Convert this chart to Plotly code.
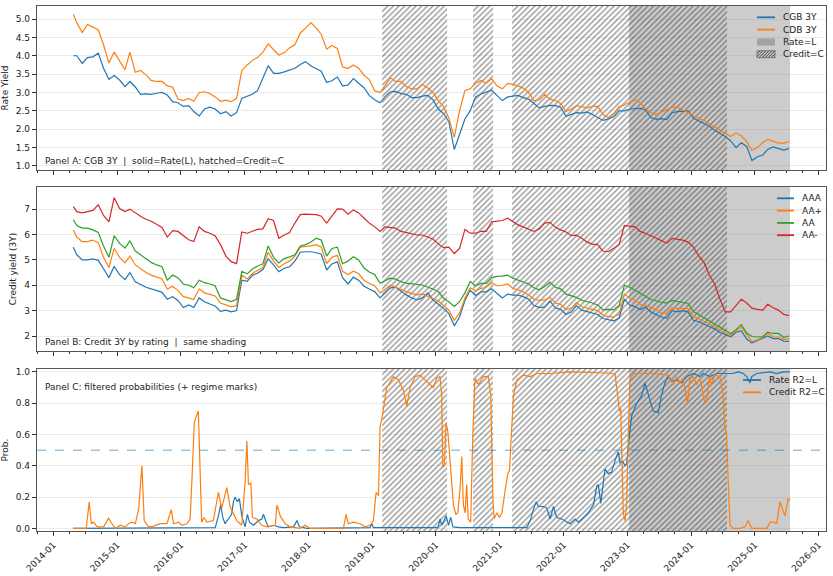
import pandas as pd
import plotly.graph_objects as go
from plotly.subplots import make_subplots

# ---------------- data ----------------
start_date = "2014-04-25"
month_dates = list(pd.date_range("2014-05-01", "2025-07-01", freq="MS") + pd.Timedelta(days=14))
dates = [pd.Timestamp(start_date)] + month_dates

cgb_3y = [4.00, 4.00, 3.79, 3.95, 3.97, 4.07, 3.66, 3.36, 3.46,
          3.34, 3.16, 3.30, 3.15, 2.95, 2.96, 2.95, 2.98, 3.00, 2.93, 2.75, 2.72,
          2.62, 2.64, 2.48, 2.36, 2.55, 2.60, 2.55, 2.42, 2.48, 2.36, 2.45, 2.84,
          2.90, 2.96, 3.05, 3.38, 3.73, 3.52, 3.52, 3.56, 3.60, 3.66, 3.76, 3.84,
          3.72, 3.65, 3.58, 3.27, 3.32, 3.42, 3.18, 3.20, 3.38, 3.25, 3.13, 2.92,
          2.80, 2.72, 2.88, 3.02, 3.03, 2.97, 2.95, 2.86, 2.86, 2.90, 2.92, 2.80,
          2.55, 2.42, 2.20, 1.45, 1.85, 2.28, 2.50, 2.88, 2.96, 3.02, 3.06, 2.92,
          2.78, 2.88, 2.90, 2.92, 2.86, 2.82, 2.70, 2.58, 2.62, 2.65, 2.64, 2.60,
          2.35, 2.40, 2.45, 2.44, 2.47, 2.40, 2.33, 2.24, 2.28, 2.34, 2.50, 2.50,
          2.55, 2.57, 2.57, 2.53, 2.32, 2.27, 2.29, 2.26, 2.45, 2.48, 2.50, 2.50,
          2.30, 2.23, 2.16, 2.08, 1.97, 1.89, 1.80, 1.68, 1.50, 1.63, 1.53, 1.15,
          1.25, 1.30, 1.45, 1.52, 1.47, 1.43, 1.47]

cdb_3y = [5.12, 4.90, 4.63, 4.85, 4.78, 4.70, 4.30, 3.80, 4.10,
          3.85, 3.62, 4.10, 3.55, 3.60, 3.48, 3.33, 3.30, 3.30, 3.18, 3.15, 2.82,
          2.78, 2.84, 2.76, 3.00, 3.02, 2.97, 2.88, 2.76, 2.79, 2.75, 2.84, 3.60,
          3.75, 3.88, 3.95, 4.10, 4.32, 4.18, 4.02, 4.08, 4.22, 4.30, 4.62, 4.75,
          4.90, 4.75, 4.58, 4.18, 4.28, 4.20, 3.70, 3.65, 3.75, 3.66, 3.47, 3.35,
          3.05, 3.00, 3.20, 3.40, 3.30, 3.30, 3.16, 3.10, 3.10, 3.22, 3.12, 3.00,
          2.78, 2.60, 2.30, 1.78, 2.50, 3.05, 3.10, 3.25, 3.33, 3.25, 3.38, 3.18,
          3.10, 3.25, 3.22, 3.18, 3.12, 3.00, 2.78, 2.80, 2.95, 2.82, 2.78, 2.70,
          2.48, 2.55, 2.64, 2.60, 2.58, 2.62, 2.62, 2.40, 2.32, 2.42, 2.62, 2.66,
          2.74, 2.79, 2.72, 2.56, 2.45, 2.40, 2.47, 2.55, 2.60, 2.60, 2.52, 2.45,
          2.35, 2.29, 2.24, 2.15, 2.05, 1.97, 1.88, 1.80, 1.90, 1.82, 1.66, 1.42,
          1.50, 1.64, 1.72, 1.66, 1.62, 1.62, 1.66]

aaa = [5.50, 5.20, 5.00, 5.00, 5.04, 4.98, 4.65, 4.30, 4.75,
       4.42, 4.22, 4.50, 4.14, 4.02, 3.92, 3.86, 3.80, 3.72, 3.45, 3.55, 3.40,
       3.12, 3.22, 3.12, 3.50, 3.35, 3.26, 3.18, 2.97, 3.02, 2.95, 3.00, 4.20,
       4.15, 4.40, 4.47, 4.62, 5.04, 4.80, 4.53, 4.67, 4.73, 4.95, 5.30, 5.32,
       5.32, 5.28, 5.22, 4.60, 4.84, 4.92, 4.30, 4.05, 4.32, 4.20, 3.96, 3.85,
       3.75, 3.50, 3.70, 3.90, 3.92, 3.75, 3.62, 3.50, 3.42, 3.50, 3.70, 3.42,
       3.25, 3.08, 2.88, 2.40, 2.75, 3.40, 3.80, 3.60, 3.74, 3.74, 3.86, 3.68,
       3.50, 3.65, 3.61, 3.61, 3.55, 3.45, 3.20, 3.12, 3.15, 3.38, 3.10, 3.05,
       2.85, 2.95, 3.20, 3.02, 2.97, 2.92, 2.85, 2.69, 2.64, 2.60, 2.70, 3.45,
       3.22, 3.15, 3.04, 3.14, 2.95, 2.85, 2.75, 2.70, 3.00, 2.95, 3.00, 2.95,
       2.62, 2.56, 2.47, 2.38, 2.28, 2.14, 2.05, 1.97, 2.15, 2.20, 1.88, 1.72,
       1.82, 1.90, 2.00, 1.90, 1.90, 1.80, 1.79]

aa_plus = [6.18, 5.90, 5.72, 5.72, 5.78, 5.68, 5.10, 4.70, 5.45,
           5.10, 4.88, 5.15, 4.80, 4.64, 4.50, 4.40, 4.32, 4.25, 3.85, 3.95, 3.80,
           3.55, 3.50, 3.44, 3.85, 3.70, 3.64, 3.58, 3.30, 3.22, 3.15, 3.20, 4.40,
           4.25, 4.47, 4.58, 4.70, 5.30, 4.95, 4.70, 4.85, 4.95, 5.15, 5.50, 5.52,
           5.55, 5.60, 5.50, 4.85, 5.10, 5.18, 4.55, 4.42, 4.55, 4.46, 4.20, 4.08,
           3.98, 3.70, 3.85, 4.00, 3.92, 3.82, 3.75, 3.68, 3.62, 3.66, 3.58, 3.48,
           3.38, 3.18, 3.02, 2.62, 2.90, 3.50, 3.90, 3.78, 3.88, 3.92, 4.10, 3.98,
           4.00, 4.05, 3.88, 3.82, 3.74, 3.62, 3.45, 3.40, 3.42, 3.52, 3.30, 3.24,
           3.05, 3.10, 3.32, 3.15, 3.10, 3.05, 3.00, 2.82, 2.76, 2.75, 2.85, 3.65,
           3.50, 3.40, 3.25, 3.22, 3.12, 3.05, 2.90, 2.90, 3.12, 3.09, 3.09, 3.08,
           2.76, 2.68, 2.58, 2.48, 2.36, 2.26, 2.12, 2.04, 2.20, 2.35, 2.05, 1.78,
           1.85, 1.95, 2.12, 1.97, 1.96, 1.88, 1.88]

aa = [6.58, 6.35, 6.25, 6.25, 6.18, 6.08, 5.55, 5.10, 5.95,
      5.65, 5.46, 5.75, 5.35, 5.20, 5.05, 4.90, 4.80, 4.73, 4.20, 4.40, 4.30,
      4.05, 4.00, 3.90, 4.20, 4.10, 4.05, 3.98, 3.50, 3.42, 3.36, 3.45, 4.55,
      4.45, 4.65, 4.75, 4.85, 5.55, 5.10, 4.88, 5.05, 5.12, 5.20, 5.55, 5.60,
      5.70, 5.85, 5.78, 5.15, 5.45, 5.50, 4.85, 4.95, 5.12, 5.00, 4.68, 4.52,
      4.42, 4.08, 4.18, 4.28, 4.24, 4.14, 4.08, 4.05, 4.02, 4.01, 3.92, 3.85,
      3.74, 3.48, 3.35, 3.16, 3.35, 3.70, 4.15, 3.98, 4.07, 4.07, 4.30, 4.35,
      4.36, 4.40, 4.28, 4.20, 4.14, 4.05, 3.90, 3.82, 3.95, 4.12, 3.92, 3.86,
      3.65, 3.58, 3.52, 3.41, 3.36, 3.30, 3.22, 3.04, 3.05, 3.04, 3.20, 4.00,
      3.92, 3.81, 3.68, 3.57, 3.44, 3.38, 3.33, 3.30, 3.40, 3.36, 3.32, 3.28,
      2.96, 2.83, 2.72, 2.60, 2.46, 2.34, 2.20, 2.10, 2.25, 2.45, 2.12, 1.98,
      1.96, 1.98, 2.15, 2.10, 2.10, 1.95, 2.00]

aa_minus = [7.10, 6.90, 6.85, 6.91, 6.95, 7.17, 6.75, 6.50, 7.45,
            7.02, 6.90, 7.00, 6.85, 6.72, 6.60, 6.52, 6.40, 6.28, 5.90, 6.15, 6.12,
            5.95, 5.79, 5.72, 6.30, 6.12, 6.05, 5.95, 5.60, 5.15, 4.93, 4.85, 6.10,
            6.05, 6.12, 6.20, 6.22, 6.62, 6.55, 5.85, 5.98, 6.08, 6.45, 6.78, 6.80,
            6.80, 6.78, 6.72, 6.45, 6.72, 7.01, 7.00, 6.80, 6.97, 6.85, 6.65, 6.45,
            6.30, 6.12, 6.30, 6.28, 6.25, 6.12, 6.08, 6.03, 5.98, 5.98, 5.90, 5.82,
            5.62, 5.48, 5.50, 5.25, 5.45, 6.20, 6.05, 6.05, 6.12, 6.12, 6.50, 6.52,
            6.55, 6.64, 6.50, 6.38, 6.30, 6.22, 6.12, 6.22, 6.45, 6.48, 6.28, 6.18,
            6.10, 5.95, 5.97, 5.85, 5.70, 5.62, 5.60, 5.34, 5.32, 5.46, 5.60, 6.35,
            6.33, 6.30, 6.12, 6.05, 5.95, 5.85, 5.75, 5.66, 5.85, 5.83, 5.78, 5.70,
            5.50, 5.15, 4.90, 4.40, 4.05, 3.45, 2.95, 2.95, 3.20, 3.45, 3.30, 3.10,
            3.05, 3.02, 3.25, 3.11, 3.02, 2.85, 2.80]

credit_prob_dates = [
    "2014-04-23", "2014-07-08", "2014-07-25", "2014-08-06", "2014-08-18", "2014-09-10", "2014-10-16",
    "2014-11-13", "2014-12-02", "2014-12-21", "2015-01-19", "2015-02-16", "2015-03-07", "2015-03-27",
    "2015-04-15", "2015-05-04", "2015-05-23", "2015-06-05", "2015-06-30", "2015-07-28", "2015-09-05",
    "2015-10-13", "2015-11-07", "2015-11-20", "2015-12-19", "2016-01-07", "2016-02-05", "2016-02-23",
    "2016-03-04", "2016-03-18", "2016-04-10", "2016-04-20", "2016-04-29", "2016-05-13", "2016-05-28",
    "2016-07-05", "2016-08-03", "2016-08-22", "2016-09-20", "2016-10-09", "2016-11-16", "2016-12-15",
    "2017-01-03", "2017-01-13", "2017-01-22", "2017-02-05", "2017-02-14", "2017-03-11", "2017-04-09",
    "2017-05-08", "2017-06-25", "2017-07-04", "2017-07-23", "2017-08-20", "2017-09-18", "2017-11-14",
    "2017-12-13", "2018-01-10", "2018-07-20", "2018-08-04", "2018-08-17", "2018-09-15", "2018-10-23",
    "2018-11-21", "2018-12-19", "2019-01-08", "2019-01-23", "2019-02-06", "2019-02-15", "2019-02-28",
    "2019-03-25", "2019-05-02", "2019-05-31", "2019-06-29", "2019-07-18", "2019-08-06", "2019-09-03",
    "2019-10-02", "2019-11-09", "2019-12-17", "2020-01-05", "2020-01-24", "2020-02-03", "2020-02-09",
    "2020-02-18", "2020-02-28", "2020-03-09", "2020-03-23", "2020-04-10", "2020-04-24", "2020-05-05",
    "2020-05-18", "2020-05-28", "2020-06-06", "2020-06-16", "2020-06-25", "2020-07-04", "2020-07-18",
    "2020-07-30", "2020-08-12", "2020-08-31", "2020-09-29", "2020-10-27", "2020-11-10", "2020-11-22",
    "2020-11-29", "2020-12-15", "2020-12-30", "2021-01-13", "2021-02-01", "2021-02-16", "2021-02-25",
    "2021-03-07", "2021-03-20", "2021-04-09", "2021-05-16", "2021-06-24", "2021-08-01", "2021-10-16",
    "2022-02-07", "2022-07-28", "2022-10-22", "2022-11-10", "2022-11-16", "2022-11-24", "2022-11-30",
    "2022-12-09", "2022-12-19", "2022-12-28", "2023-01-07", "2023-01-16", "2023-02-04", "2023-05-29",
    "2023-08-23", "2023-09-21", "2023-10-11", "2023-10-29", "2023-11-17", "2023-12-07", "2023-12-12",
    "2023-12-25", "2024-01-13", "2024-02-02", "2024-02-21", "2024-03-11", "2024-03-20", "2024-04-05",
    "2024-04-14", "2024-04-27", "2024-05-16", "2024-06-14", "2024-07-03", "2024-07-13", "2024-07-23",
    "2024-08-01", "2024-08-11", "2024-08-29", "2024-10-07", "2024-11-05", "2024-11-24", "2024-12-13",
    "2025-01-30", "2025-03-10", "2025-03-29", "2025-04-17", "2025-05-06", "2025-05-25", "2025-06-09",
    "2025-06-22", "2025-07-11", "2025-07-21"]
credit_prob = [
    0.0, 0.0, 0.17, 0.03, 0.04, 0.01, 0.01,
    0.065, 0.03, 0.0, 0.02, 0.01, 0.03, 0.04,
    0.03, 0.12, 0.40, 0.05, 0.01, 0.015, 0.03,
    0.03, 0.12, 0.03, 0.04, 0.02, 0.03, 0.06,
    0.30, 0.68, 0.75, 0.40, 0.04, 0.07, 0.04,
    0.05, 0.23, 0.13, 0.26, 0.14, 0.05, 0.02,
    0.30, 0.56, 0.28, 0.29, 0.07, 0.06, 0.02,
    0.01, 0.02, 0.15, 0.08, 0.03, 0.01, 0.0,
    0.02, 0.0, 0.0, 0.09, 0.03, 0.04, 0.03,
    0.01, 0.02, 0.05, 0.23, 0.21, 0.65, 0.72,
    0.90, 0.97, 0.95, 0.88, 0.78, 0.90, 0.97,
    0.98, 0.94, 0.90, 0.96, 0.97, 0.85, 0.39,
    0.40, 0.67, 0.62, 0.40, 0.15, 0.09, 0.10,
    0.25, 0.46, 0.15, 0.10, 0.28, 0.06, 0.04,
    0.60, 0.96, 0.92, 0.97, 0.97, 0.85, 0.20,
    0.06, 0.10, 0.07, 0.10, 0.25, 0.35, 0.37,
    0.60, 0.85, 0.95, 0.98, 0.97, 0.99, 0.99,
    1.0, 0.995, 0.99, 0.82, 0.75, 0.77, 0.55,
    0.10, 0.05, 0.15, 0.60, 0.95, 0.99, 0.99,
    0.98, 0.92, 0.97, 0.93, 0.96, 0.85, 0.80,
    0.95, 0.97, 0.92, 0.96, 0.85, 0.80, 0.85,
    0.97, 0.92, 0.98, 0.97, 0.85, 0.65, 0.60,
    0.30, 0.02, 0.0, 0.0, 0.01, 0.05, 0.0,
    0.0, 0.0, 0.04, 0.04, 0.03, 0.17, 0.12,
    0.08, 0.19, 0.18]

rate_prob_dates = [
    "2014-04-23", "2016-07-16", "2016-08-03", "2016-08-16", "2016-08-28", "2016-09-10", "2016-09-29",
    "2016-10-18", "2016-10-28", "2016-11-06", "2016-11-20", "2016-12-01", "2016-12-15", "2017-01-03",
    "2017-01-16", "2017-01-28", "2017-02-20", "2017-03-20", "2017-04-09", "2017-04-18", "2017-05-04",
    "2017-05-17", "2017-06-15", "2017-07-13", "2017-08-11", "2017-10-07", "2017-10-27", "2017-11-10",
    "2017-12-23", "2018-12-19", "2018-12-30", "2019-01-08", "2020-01-05", "2020-01-14", "2020-01-24",
    "2020-02-03", "2020-02-12", "2020-02-28", "2020-03-13", "2020-03-26", "2020-04-07", "2020-05-18",
    "2021-06-04", "2021-06-24", "2021-07-12", "2021-07-28", "2021-08-10", "2021-09-08", "2021-09-27",
    "2021-10-16", "2021-11-04", "2021-11-23", "2021-12-22", "2022-01-10", "2022-02-07", "2022-03-08",
    "2022-03-27", "2022-04-25", "2022-05-23", "2022-06-21", "2022-07-10", "2022-07-19", "2022-08-02",
    "2022-08-13", "2022-08-26", "2022-09-14", "2022-10-03", "2022-10-22", "2022-11-10", "2022-11-20",
    "2022-12-05", "2022-12-19", "2022-12-28", "2023-01-07", "2023-01-26", "2023-02-24", "2023-03-25",
    "2023-04-12", "2023-05-01", "2023-05-29", "2023-06-27", "2023-07-16", "2023-08-04", "2023-08-23",
    "2023-09-12", "2023-10-11", "2023-11-08", "2023-12-07", "2024-01-13", "2024-02-21", "2024-03-11",
    "2024-04-18", "2024-05-27", "2024-08-29", "2024-09-27", "2024-10-26", "2024-11-15", "2024-12-04",
    "2024-12-13", "2025-01-11", "2025-03-29", "2025-05-06", "2025-06-13", "2025-07-21"]
rate_prob = [
    0.0, 0.005, 0.08, 0.15, 0.07, 0.03, 0.06,
    0.09, 0.17, 0.20, 0.17, 0.19, 0.08, 0.01,
    0.09, 0.04, 0.02, 0.05, 0.06, 0.09, 0.04,
    0.01, 0.02, 0.01, 0.005, 0.01, 0.05, 0.01,
    0.0, 0.005, 0.03, 0.005, 0.005, 0.01, 0.06,
    0.02, 0.04, 0.08, 0.02, 0.07, 0.01, 0.005,
    0.005, 0.05, 0.12, 0.17, 0.14, 0.14, 0.13,
    0.06, 0.14, 0.07, 0.06, 0.05, 0.03, 0.06,
    0.04, 0.07, 0.10, 0.15, 0.27, 0.28, 0.16,
    0.26, 0.38, 0.35, 0.36, 0.43, 0.49, 0.42,
    0.43, 0.40, 0.41, 0.53, 0.72, 0.80, 0.85,
    0.93, 0.85, 0.75, 0.74, 0.85, 0.93, 0.97,
    0.94, 0.95, 0.93, 0.97, 0.99, 0.97, 0.99,
    0.97, 0.99, 0.99, 1.0, 0.99, 0.97, 0.93,
    0.97, 0.99, 1.0, 0.99, 1.0, 1.0]

credit_periods = [("2019-02-27", "2020-03-05"), ("2020-07-31", "2020-11-23"), ("2021-03-12", "2024-07-25")]
rate_periods = [("2023-01-11", "2025-07-21")]

# ---------------- styling ----------------
C_BLUE, C_ORANGE, C_GREEN, C_RED = "#1f77b4", "#ff7f0e", "#2ca02c", "#d62728"
GRAY_FILL = "rgba(128,128,128,0.40)"
HATCH_FG = "rgba(45,45,45,1)"
FONT = "DejaVu Sans"
y_ranges = {1: (0.89, 5.354), 2: (1.41, 7.87), 3: (-0.0166, 1.019)}

W, H = 833, 576
ML, MR, MT, MB = 37, 7, 6, 45
PW, PH = W - ML - MR, H - MT - MB

def pxp(px, py):
    return (px - ML) / PW, (H - MB - py) / PH

fig = make_subplots(rows=3, cols=1, shared_xaxes=True, vertical_spacing=0.03)

def polys(periods, lo, hi):
    xs, ys = [], []
    for s, e in periods:
        xs += [s, s, e, e, s, None]
        ys += [lo, hi, hi, lo, lo, None]
    return xs, ys

for r in (1, 2, 3):
    lo, hi = y_ranges[r]
    gx, gy = polys(rate_periods, lo - 1, hi + 1)
    fig.add_trace(go.Scatter(x=gx, y=gy, mode="lines", fill="toself", fillcolor=GRAY_FILL,
                             line=dict(width=0), name="Rate=L", showlegend=False,
                             hoverinfo="skip"), row=r, col=1)
    hx, hy = polys(credit_periods, lo - 1, hi + 1)
    fig.add_trace(go.Scatter(x=hx, y=hy, mode="lines", fill="toself", fillcolor="rgba(0,0,0,0)",
                             line=dict(width=0),
                             fillpattern=dict(shape="/", fgcolor=HATCH_FG, bgcolor="rgba(0,0,0,0)",
                                              size=4, solidity=0.35),
                             name="Credit=C", showlegend=False, hoverinfo="skip"), row=r, col=1)

lw = 1.2
fig.add_trace(go.Scatter(x=dates, y=cgb_3y, mode="lines", name="CGB 3Y", showlegend=False,
                         line=dict(color=C_BLUE, width=lw)), row=1, col=1)
fig.add_trace(go.Scatter(x=dates, y=cdb_3y, mode="lines", name="CDB 3Y", showlegend=False,
                         line=dict(color=C_ORANGE, width=lw)), row=1, col=1)

panel_b = [("AAA", aaa, C_BLUE), ("AA+", aa_plus, C_ORANGE), ("AA", aa, C_GREEN), ("AA-", aa_minus, C_RED)]
for name, vals, col in panel_b:
    fig.add_trace(go.Scatter(x=dates, y=vals, mode="lines", name=name, showlegend=False,
                             line=dict(color=col, width=lw)), row=2, col=1)

fig.add_trace(go.Scatter(x=rate_prob_dates, y=rate_prob, mode="lines", name="Rate R2=L", showlegend=False,
                         line=dict(color=C_BLUE, width=lw)), row=3, col=1)
fig.add_trace(go.Scatter(x=credit_prob_dates, y=credit_prob, mode="lines", name="Credit R2=C", showlegend=False,
                         line=dict(color=C_ORANGE, width=lw)), row=3, col=1)

fig.add_shape(type="line", xref="x3 domain", yref="y3", x0=0, x1=1, y0=0.5, y1=0.5,
              line=dict(color="rgba(31,119,180,0.65)", width=1, dash="dash"))

# ---------------- hand-drawn legends (matplotlib-like compact spacing) ----------------
leg_font = dict(family=FONT, size=9, color="#222")

def leg_line(x0, x1, tx, y, color, label):
    a0, b0 = pxp(x0, y)
    a1, _ = pxp(x1, y)
    fig.add_shape(type="line", xref="paper", yref="paper", x0=a0, x1=a1, y0=b0, y1=b0,
                  line=dict(color=color, width=1.8))
    ta, _ = pxp(tx, y)
    fig.add_annotation(xref="paper", yref="paper", x=ta, y=b0, xanchor="left", yanchor="middle",
                       text=label, showarrow=False, font=leg_font)

def leg_patch(x0, x1, tx, y, label, hatched):
    a0, b0 = pxp(x0, y + 3.5)
    a1, b1 = pxp(x1, y - 3.5)
    if hatched:
        fig.add_shape(type="rect", xref="paper", yref="paper", x0=a0, x1=a1, y0=b0, y1=b1,
                      fillcolor="rgba(0,0,0,0)", line=dict(color="rgba(90,90,90,0.8)", width=0.8))
        segs = []
        k = x0 - 7.0
        while k < x1:
            sx0, sy0 = k, y + 3.5
            sx1, sy1 = k + 7.0, y - 3.5
            if sx0 < x0:
                sy0 -= (x0 - sx0); sx0 = x0
            if sx1 > x1:
                sy1 += (sx1 - x1); sx1 = x1
            p0 = pxp(sx0, sy0); p1 = pxp(sx1, sy1)
            segs.append(f"M {p0[0]:.5f} {p0[1]:.5f} L {p1[0]:.5f} {p1[1]:.5f}")
            k += 3.0
        fig.add_shape(type="path", xref="paper", yref="paper", path=" ".join(segs),
                      line=dict(color=HATCH_FG, width=0.9))
    else:
        fig.add_shape(type="rect", xref="paper", yref="paper", x0=a0, x1=a1, y0=b0, y1=b1,
                      fillcolor="rgba(128,128,128,0.55)", line=dict(width=0))
    ta, tb = pxp(tx, y)
    fig.add_annotation(xref="paper", yref="paper", x=ta, y=tb, xanchor="left", yanchor="middle",
                       text=label, showarrow=False, font=leg_font)

leg_line(757, 775, 781, 17.3, C_BLUE, "CGB 3Y")
leg_line(757, 775, 781, 29.6, C_ORANGE, "CDB 3Y")
leg_patch(757, 775, 781, 42.0, "Rate=L", False)
leg_patch(757, 775, 781, 54.2, "Credit=C", True)
for i, (name, _, col) in enumerate(panel_b):
    leg_line(777, 794, 800, 198.3 + 12.3 * i, col, name)
leg_line(743, 761, 767, 380.0, C_BLUE, "Rate R2=L")
leg_line(743, 761, 767, 392.3, C_ORANGE, "Credit R2=C")

# ---------------- axes ----------------
x_range = ["2013-09-29", "2026-02-12"]
for r in (1, 2, 3):
    fig.update_xaxes(row=r, col=1, type="date", range=x_range, tickformat="%Y-%m", dtick="M12",
                     tick0="2014-01-01", ticks="outside", ticklen=4, tickcolor="#333",
                     showline=True, linecolor="#555", linewidth=1.2, mirror=True,
                     showgrid=False, zeroline=False, automargin=False,
                     minor=dict(ticks="outside", ticklen=2, dtick="M3", tickcolor="#333", showgrid=False),
                     tickfont=dict(family=FONT, size=9, color="#222"))
fig.update_xaxes(row=3, col=1, tickangle=-45, showticklabels=True)

ytitles = {1: "Rate Yield", 2: "Credit yield (3Y)", 3: "Prob."}
yticks = {1: [1.0, 1.5, 2.0, 2.5, 3.0, 3.5, 4.0, 4.5, 5.0], 2: [2, 3, 4, 5, 6, 7],
          3: [0.0, 0.2, 0.4, 0.6, 0.8, 1.0]}
ytickfmt = {1: ".1f", 2: "d", 3: ".1f"}
for r in (1, 2, 3):
    fig.update_yaxes(row=r, col=1, range=list(y_ranges[r]), tickvals=yticks[r], tickformat=ytickfmt[r],
                     ticks="outside", ticklen=4, tickcolor="#333",
                     showline=True, linecolor="#555", linewidth=1.2, mirror=True,
                     showgrid=True, gridcolor="rgba(0,0,0,0.08)", gridwidth=1, zeroline=False,
                     automargin=False,
                     title=dict(text=ytitles[r], font=dict(family=FONT, size=9, color="#222"), standoff=6),
                     tickfont=dict(family=FONT, size=9, color="#222"))

fig.update_layout(
    yaxis=dict(domain=[0.6876, 1.0]),
    yaxis2=dict(domain=[0.3429, 0.6552]),
    yaxis3=dict(domain=[0.0, 0.3086]),
)

ann_font = dict(family=FONT, size=9, color="#222")
fig.add_annotation(xref="x domain", yref="y domain", x=0.008, y=0.015, xanchor="left", yanchor="bottom",
                   text="Panel A: CGB 3Y  |  solid=Rate(L), hatched=Credit=C", showarrow=False, font=ann_font)
fig.add_annotation(xref="x2 domain", yref="y2 domain", x=0.008, y=0.015, xanchor="left", yanchor="bottom",
                   text="Panel B: Credit 3Y by rating  |  same shading", showarrow=False, font=ann_font)
fig.add_annotation(xref="x3 domain", yref="y3 domain", x=0.008, y=0.93, xanchor="left", yanchor="top",
                   text="Panel C: filtered probabilities (+ regime marks)", showarrow=False, font=ann_font)

fig.update_layout(
    width=W, height=H,
    margin=dict(l=ML, r=MR, t=MT, b=MB),
    paper_bgcolor="white", plot_bgcolor="white",
    font=dict(family=FONT, size=9, color="#222"),
    showlegend=False,
)

fig.write_html("out.html")
